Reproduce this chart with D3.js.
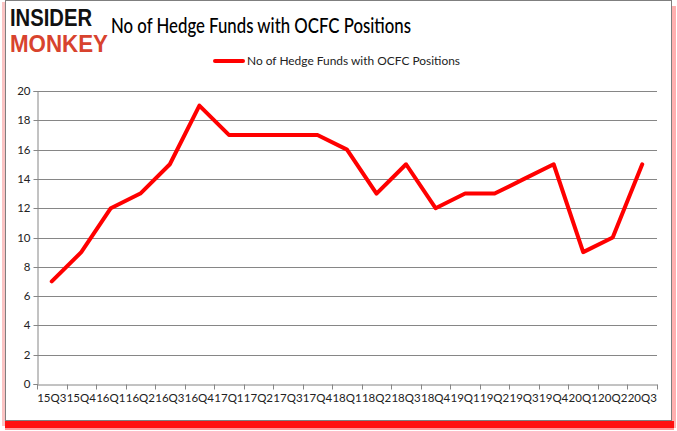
<!DOCTYPE html>
<html><head><meta charset="utf-8">
<script src="https://cdn.jsdelivr.net/npm/d3@7"></script>
<style>body{margin:0;background:#fff}svg{display:block}</style>
</head><body>
<script>
const categories = ["15Q3","15Q4","16Q1","16Q2","16Q3","16Q4","17Q1","17Q2","17Q3","17Q4","18Q1","18Q2","18Q3","18Q4","19Q1","19Q2","19Q3","19Q4","20Q1","20Q2","20Q3"];
const values = [7,9,12,13,15,19,17,17,17,17,16,13,15,12,13,13,14,15,9,10,15];
const yTicks = [0,2,4,6,8,10,12,14,16,18,20];
const seriesName = "No of Hedge Funds with OCFC Positions";
const titleText = "No of Hedge Funds with OCFC Positions";

const W = 677, H = 431;
const svg = d3.select("body").append("svg").attr("width", W).attr("height", H);

// frame with red/pink shadow
svg.append("rect").attr("x", 2).attr("y", 2).attr("width", 3).attr("height", 424).attr("fill", "#fbc4c4");
svg.append("rect").attr("x", 672).attr("y", 6).attr("width", 4).attr("height", 422).attr("fill", "#ffb0b0");
svg.append("rect").attr("x", 5).attr("y", 421).attr("width", 669).attr("height", 7).attr("fill", "#ff1010");
svg.append("rect").attr("x", 5).attr("y", 428).attr("width", 669).attr("height", 2).attr("fill", "#ff9a9a");
svg.append("rect").attr("x", 5.5).attr("y", 0.5).attr("width", 666).attr("height", 420).attr("fill", "#fff").attr("stroke", "#7f7f7f").attr("stroke-width", 1);

const margin = {left: 37, right: 657, top: 91, bottom: 384};
const x = d3.scaleBand().domain(categories).range([margin.left, margin.right]);
const y = d3.scaleLinear().domain([0, 20]).range([margin.bottom, margin.top]);

// gridlines
svg.append("g").selectAll("line").data(yTicks.filter(d => d > 0)).join("line")
  .attr("x1", margin.left).attr("x2", margin.right)
  .attr("y1", d => Math.round(y(d)) + 0.5).attr("y2", d => Math.round(y(d)) + 0.5)
  .attr("stroke", "#868686").attr("stroke-width", 1);

// y axis
const yAxis = d3.axisLeft(y).tickValues(yTicks).tickSize(4).tickPadding(3).tickFormat(d3.format("d"));
const gy = svg.append("g").attr("transform", `translate(${margin.left + 0.5},0)`).call(yAxis);
gy.select(".domain").attr("stroke", "#868686");
gy.selectAll(".tick line").attr("stroke", "#868686");
gy.selectAll(".tick").attr("transform", d => `translate(0,${Math.round(y(d)) + 0.5})`);
gy.selectAll("text").attr("font-family", "Lato, 'Open Sans', sans-serif").attr("font-size", 11.5).attr("fill", "#222");

// x axis
const xAxis = d3.axisBottom(x).tickSize(0).tickPadding(9);
const gx = svg.append("g").attr("transform", `translate(0,${Math.round(y(0)) + 0.5})`).call(xAxis);
gx.select(".domain").attr("stroke", "#868686");
gx.selectAll("text").attr("font-family", "Lato, 'Open Sans', sans-serif").attr("font-size", 11.5).attr("fill", "#222");
const edges = categories.map(c => x(c)).concat([x.range()[1]]);
gx.append("g").selectAll("line").data(edges).join("line")
  .attr("x1", d => Math.round(d) + 0.5).attr("x2", d => Math.round(d) + 0.5)
  .attr("y1", 0).attr("y2", 5).attr("stroke", "#868686");

// line
const line = d3.line().x((d, i) => x(categories[i]) + x.bandwidth() / 2).y(d => y(d));
svg.append("path").datum(values).attr("d", line)
  .attr("fill", "none").attr("stroke", "#ff0000").attr("stroke-width", 4)
  .attr("stroke-linejoin", "round").attr("stroke-linecap", "round");

// title
svg.append("text").attr("x", 111).attr("y", 33).text(titleText)
  .attr("font-family", "Lato, 'Open Sans', sans-serif").attr("font-size", 21).attr("font-weight", 500).attr("fill", "#000")
  .attr("textLength", 300).attr("lengthAdjust", "spacingAndGlyphs");

// legend
svg.append("line").attr("x1", 215).attr("x2", 243).attr("y1", 61).attr("y2", 61)
  .attr("stroke", "#ff0000").attr("stroke-width", 4).attr("stroke-linecap", "round");
svg.append("text").attr("x", 247).attr("y", 65).text(seriesName)
  .attr("font-family", "Lato, 'Open Sans', sans-serif").attr("font-size", 11.5).attr("fill", "#222")
  .attr("textLength", 213).attr("lengthAdjust", "spacingAndGlyphs");

// logo
svg.append("text").attr("x", 10).attr("y", 26).text("INSIDER")
  .attr("font-family", "'Liberation Sans Narrow', 'Liberation Sans', sans-serif").attr("font-weight", "bold")
  .attr("font-size", 23).attr("fill", "#111").attr("textLength", 82).attr("lengthAdjust", "spacingAndGlyphs");
svg.append("text").attr("x", 10).attr("y", 52).text("MONKEY")
  .attr("font-family", "'Liberation Sans Narrow', 'Liberation Sans', sans-serif").attr("font-weight", "bold")
  .attr("font-size", 23.5).attr("fill", "#d8432e").attr("textLength", 98).attr("lengthAdjust", "spacingAndGlyphs");
</script>
</body></html>
